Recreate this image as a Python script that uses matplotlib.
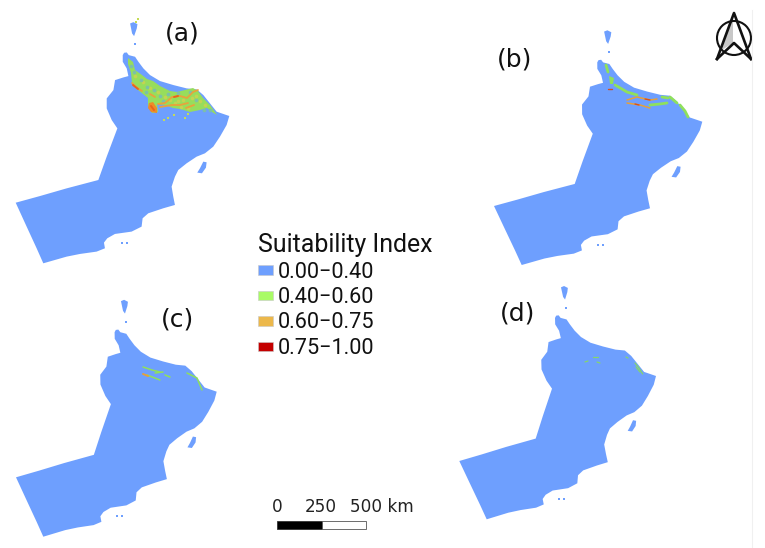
import matplotlib
matplotlib.use("Agg")
import matplotlib.pyplot as plt
import numpy as np
from matplotlib.patches import Polygon, Circle, Rectangle

# Outline of the country at 3x zoom
outline = [(368,165),(372,158),(380,157),(386,165),(405,170),(415,185),(430,205),(450,225),(480,243),
           (520,255),(560,265),(590,268),(610,285),(630,310),(650,335),(688,348),(680,375),
           (660,410),(640,440),(615,460),(590,470),(560,490),(535,510),(525,530),(515,560),
           (520,590),(525,615),(490,625),(445,640),(428,655),(425,680),(395,695),(345,702),
           (322,715),(312,728),(315,745),(290,755),(240,762),(200,770),(130,790),(110,745),
           (80,680),(47,608),(120,588),(200,565),(295,540),(320,470),(352,385),(335,360),
           (320,325),(320,295),(340,270),(345,240),(370,232),(385,228),(380,205),(368,185)]
north_island = [(390,70),(400,66),(412,72),(410,85),(402,108),(396,100),(393,85)]
east_island = [(592,518),(600,505),(610,485),(620,487),(618,503),(606,520)]
small_dots = [(405,133),(365,728),(380,728)]

# anchor points of each panel in image pixels: west corner, east cape, south corner
anchor_a = [(15.7,202.7),(229.3,116),(43.3,263.3)]
anchor_b = [(494,206),(702.3,121.7),(521.7,265)]
anchor_c = [(16,477.3),(216.7,391.7),(43.3,536.7)]
anchor_d = [(459.3,461),(656,376),(486.7,519.3)]
base_anchor = [(47,608),(688,348),(130,790)]

# Suitability patches, image pixels
a_green = [(128,58),(133,62),(135,70),(142,75),(147,79),(153,81),(160,86),(170,91),(177,92),(185,90),
           (193,88),(198,91),(203,98),(210,105),(217,115),(212,112),(207,108),(200,110),(190,112),
           (180,109),(173,108),(165,105),(157,104),(158,112),(152,113),(148,105),(148,98),(143,94),
           (138,90),(132,83),(131,73),(128,64)]
a_orange_lines = [[(132,83),(136,87),(142,91)],[(158,104),(165,103),(172,97),(180,96),(187,98),(193,92),(198,90)],
                  [(160,107),(172,105),(180,105),(188,103)],[(150,94),(155,97)],[(186,108),(194,105)]]
a_red_lines = [[(133,85),(138,89)],[(151,106),(154,110)],[(174,97),(178,96)]]
a_orange_blob = [(149,103),(153,102),(157,108),(157,113),(151,112),(148,108)]
a_green_dots = [(164,120),(168,118),(174,115),(185,118),(188,114),(136,22),(138,19)]
a_yellow_dots = [(135,76),(143,82),(150,88),(158,92),(165,97),(178,101),(183,100),(192,98),(196,96),
                 (200,101),(175,103),(170,100),(205,105),(188,108),(181,107)]
a_blue_dots = [(131,66),(134,72),(141,80),(147,87),(146,92),(154,90),(160,96),(168,94),(190,92),
               (196,100),(204,110),(210,110),(178,93),(163,101)]

b_patches = [[(609,76),(614,78),(613,84),(610,84)]]
b_green = [[(606,65),(608,72)],[(615,85),(622,89),(627,92),(637,95)],[(650,105),(660,104),(667,103)],
           [(670,97),(677,103)],[(680,105),(685,111),(688,117)],[(662,97),(668,98)]]
b_orange = [[(627,100),(637,97),(650,100),(657,99)],[(627,103),(640,105),(650,108)]]
b_red = [[(608,89),(612,89)],[(635,104),(639,105)],[(645,99),(650,100)]]

c_green = [[(143,367),(152,370),(160,372)],[(147,375),(160,380)],[(155,373),(163,372)],
           [(165,375),(170,377)],[(187,373),(197,378),(202,390)]]
c_orange = [[(143,374),(148,376)]]

d_green = [[(635,363),(639,368),(642.7,374)],[(636,367),(640,372)],[(585,362),(588,361)],
           [(593,357),(598,357)],[(597,362),(600,363)],[(626,357),(628,358)]]

panel_labels = ["(a)", "(b)", "(c)", "(d)"]
label_xy = [(182,33),(515,60),(178,319),(518,314)]

legend_title = "Suitability Index"
legend_labels = ["0.00\u22120.40", "0.40\u22120.60", "0.60\u22120.75", "0.75\u22121.00"]
legend_colors = ["#6e9ffe", "#a9fb66", "#ecb84b", "#c40000"]
BLUE, GREEN, ORANGE, RED = legend_colors

scale_labels = ["0", "250", "500 km"]
scale_xy = [277, 321, 382]


def to_panel(points, anchor):
    # affine map from the traced outline to one panel
    src = np.column_stack([np.array(base_anchor), np.ones(3)])
    coef = np.linalg.solve(src, np.array(anchor))
    pts = np.column_stack([np.array(points), np.ones(len(points))])
    return pts @ coef


def draw_lines(ax, lines, color, lw):
    for line in lines:
        xs, ys = zip(*line)
        ax.plot(xs, ys, color=color, lw=lw, solid_capstyle="round", solid_joinstyle="round")


fig = plt.figure(figsize=(7.65, 5.48), dpi=100)
ax = fig.add_axes([0, 0, 1, 1])
ax.set_xlim(0, 765)
ax.set_ylim(548, 0)
ax.axis("off")

for anchor in [anchor_a, anchor_b, anchor_c, anchor_d]:
    for shape in [outline, north_island, east_island]:
        ax.add_patch(Polygon(to_panel(shape, anchor), closed=True, fc=BLUE, ec="none"))
    dots = to_panel(small_dots, anchor)
    ax.scatter(dots[:, 0], dots[:, 1], s=2, color=BLUE, marker="s", linewidths=0)

# panel (a), the widest belt
ax.add_patch(Polygon(a_green, closed=True, fc="#97dd5c", ec="none"))
ax.scatter(*zip(*a_yellow_dots), s=7, color="#c4d452", marker="o", linewidths=0)
ax.scatter(*zip(*a_blue_dots), s=7, color="#7cc0a8", marker="o", linewidths=0)
draw_lines(ax, a_orange_lines, "#e9a23c", 1.3)
ax.add_patch(Polygon(a_orange_blob, closed=True, fc="#ef8a27", ec="none"))
draw_lines(ax, a_red_lines, "#e8641c", 1.4)
ax.scatter(*zip(*a_green_dots), s=4, color="#c5dc55", marker="s", linewidths=0)

for patch in b_patches:
    ax.add_patch(Polygon(patch, closed=True, fc="#8fe05c", ec="none"))
draw_lines(ax, b_green, "#8fe05c", 2.0)
draw_lines(ax, b_orange, "#e6a03a", 1.1)
draw_lines(ax, b_red, "#d8501c", 1.0)

draw_lines(ax, c_green, "#8fe05c", 1.1)
draw_lines(ax, c_orange, "#e6a03a", 1.4)

draw_lines(ax, d_green, "#86d66a", 0.9)

for label, (x, y) in zip(panel_labels, label_xy):
    ax.text(x, y, label, fontsize=18, ha="center", va="center", color="#111111")

# legend
ax.text(258, 245, legend_title, fontsize=17.9, family="Roboto", va="center", ha="left", color="#111111")
for i, (label, color) in enumerate(zip(legend_labels, legend_colors)):
    y = 269.5 + i * 25.5
    ax.add_patch(Rectangle((258, y - 4.5), 15, 9.5, fc=color, ec="#c8c8c8", lw=0.4))
    ax.text(278, y + 2.5, label, fontsize=15.6, family="Roboto", va="center", ha="left", color="#111111")

# scale bar
for label, x in zip(scale_labels, scale_xy):
    ax.text(x, 507, label, fontsize=12.2, ha="center", va="center", color="#222222")
ax.add_patch(Rectangle((277, 521), 45, 8, fc="black", ec="#333333", lw=0.6))
ax.add_patch(Rectangle((322, 521), 44, 8, fc="white", ec="#555555", lw=0.6))

# north arrow and the faint frame edge
ax.add_patch(Polygon([(733, 14), (733, 43), (722, 50)], closed=True, fc="#c8c8c8", ec="none"))
ax.add_patch(Circle((734, 38), 17, fc="none", ec="#111111", lw=1.5))
ax.plot([717, 734, 751], [59, 13, 59], color="#111111", lw=1.9)
ax.plot([717, 734, 751], [59, 43, 59], color="#111111", lw=1.9)
ax.plot([752, 752], [10, 548], color="#f0f0f0", lw=0.8)

fig.savefig("out.png", dpi=100)
